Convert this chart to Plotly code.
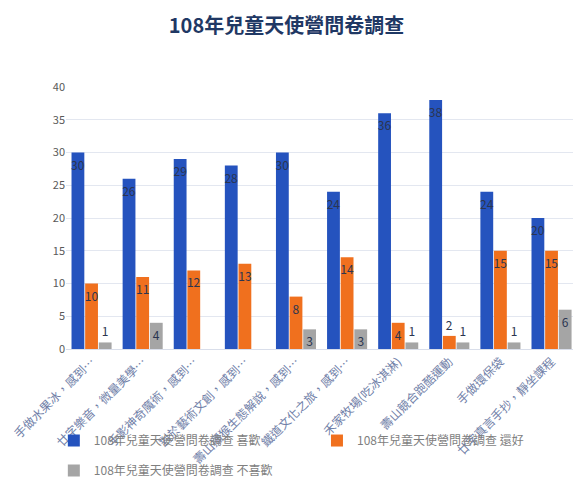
import plotly.graph_objects as go

categories = [
    "手做水果冰，感到…",
    "廿字樂音，微量美學…",
    "手影神奇魔術，感到…",
    "對於藝術文創，感到…",
    "壽山獼猴生態解說，感到…",
    "鐵道文化之旅，感到…",
    "禾家牧場(吃冰淇淋)",
    "壽山競合跑酷運動",
    "手做環保袋",
    "廿字真言手抄，靜坐課程",
]
like = [30, 26, 29, 28, 30, 24, 36, 38, 24, 20]
okay = [10, 11, 12, 13, 8, 14, 4, 2, 15, 15]
dislike = [1, 4, None, None, 3, 3, 1, 1, 1, 6]

series_names = [
    "108年兒童天使營問卷調查 喜歡",
    "108年兒童天使營問卷調查 還好",
    "108年兒童天使營問卷調查 不喜歡",
]
colors = ["#2553BE", "#F0701E", "#A5A5A5"]
FONT = "Noto Sans CJK TC"


def positions(vals):
    return ["outside" if (v is not None and v <= 2) else "inside" for v in vals]


fig = go.Figure()
for name, vals, col, lg in zip(series_names, [like, okay, dislike], colors,
                               ["legend", "legend3", "legend2"]):
    fig.add_trace(go.Bar(
        x=categories, y=vals, name=name,
        marker=dict(color=col, line=dict(width=0)),
        text=[("" if v is None else str(v)) for v in vals],
        textposition=positions(vals),
        insidetextanchor="end",
        textangle=0,
        constraintext="none",
        cliponaxis=False,
        textfont=dict(family=FONT, size=12, color="#2B3550"),
        legend=lg,
        showlegend=True,
    ))

leg_font = dict(family=FONT, size=12, color="#7F7F7F")
fig.update_layout(
    width=573, height=479,
    showlegend=True,
    paper_bgcolor="white", plot_bgcolor="white",
    margin=dict(l=66, r=0, t=87, b=130, autoexpand=False),
    barmode="group", bargap=0.2, bargroupgap=0.06,
    title=dict(text="<b>108年兒童天使營問卷調查</b>", x=0.5, xanchor="center",
               y=0.945, yanchor="middle",
               font=dict(family=FONT, size=20, color="#1F3864")),
    font=dict(family=FONT),
    xaxis=dict(tickangle=-45, range=[-0.5, 9.42], automargin=False,
               tickfont=dict(family=FONT, size=12, color="#7080A8"),
               showline=True, linecolor="#D9DEEA", ticks=""),
    yaxis=dict(range=[0, 40], dtick=5, showgrid=True, gridcolor="#E3E7F0",
               zeroline=False, ticks="", automargin=False,
               tickfont=dict(family=FONT, size=11, color="#595959")),
    legend=dict(x=-0.024, xanchor="left", y=-0.294, yanchor="top",
                bgcolor="rgba(0,0,0,0)", font=leg_font, visible=True),
    legend3=dict(x=0.495, xanchor="left", y=-0.294, yanchor="top",
                 bgcolor="rgba(0,0,0,0)", font=leg_font),
    legend2=dict(x=-0.024, xanchor="left", y=-0.408, yanchor="top",
                 bgcolor="rgba(0,0,0,0)", font=leg_font),
)

fig.write_html("out.html", config={"displayModeBar": False},
               post_script="document.body.style.margin='0';document.body.style.overflow='hidden';")
